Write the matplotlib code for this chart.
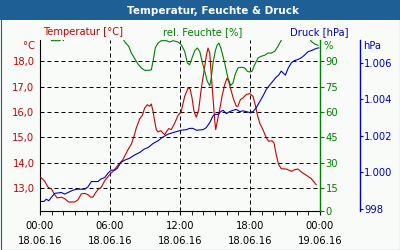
import matplotlib
matplotlib.use("Agg")
import matplotlib.pyplot as plt
from matplotlib.patches import Rectangle
from matplotlib.ticker import MultipleLocator

# ---------------- data ----------------
temp_t = [0.06, 0.40, 0.69, 0.97, 1.26, 1.48, 1.83, 2.12, 2.46, 2.97, 3.26, 3.54, 3.83, 4.11, 4.35,
          4.54, 4.74, 4.97, 5.25, 5.55, 5.97, 6.26, 6.69, 7.11, 7.54, 7.83, 8.06, 8.25, 8.55, 8.77,
          8.97, 9.20, 9.40, 9.54, 9.69, 9.83, 9.97, 10.11, 10.35, 10.54, 10.69, 10.83, 11.03, 11.25,
          11.55, 11.83, 12.11, 12.40, 12.69, 12.86, 13.03, 13.20, 13.40, 13.60, 13.83, 14.06, 14.25,
          14.40, 14.55, 14.68, 14.83, 14.97, 15.06, 15.20, 15.40, 15.60, 15.83, 16.03, 16.17, 16.40,
          16.60, 16.83, 16.97, 17.17, 17.40, 17.68, 17.97, 18.26, 18.45, 18.63, 18.83, 19.11, 19.40,
          19.60, 19.89, 20.06, 20.25, 20.46, 20.68, 21.11, 21.54, 21.83, 22.11, 22.40, 22.83, 23.25,
          23.68]
temp_v = [13.43, 13.28, 13.04, 12.98, 12.75, 12.62, 12.65, 12.59, 12.46, 12.46, 12.55, 12.78, 12.80,
          12.75, 12.65, 12.65, 12.81, 12.95, 13.04, 13.30, 13.54, 13.67, 13.91, 14.13, 14.52, 14.74,
          15.05, 15.37, 15.74, 15.87, 16.16, 16.29, 16.23, 16.32, 16.03, 15.64, 15.31, 15.22, 15.27,
          15.18, 15.11, 15.22, 15.35, 15.31, 15.57, 15.87, 16.03, 16.62, 16.95, 16.92, 16.56, 16.03,
          15.80, 16.09, 16.95, 17.61, 18.20, 18.52, 18.33, 17.47, 16.56, 15.70, 15.31, 15.64, 16.09,
          16.62, 17.08, 17.34, 17.21, 16.82, 16.49, 16.23, 16.23, 16.49, 16.56, 16.69, 16.73, 16.62,
          16.29, 15.90, 15.57, 15.31, 14.98, 14.85, 14.87, 14.78, 14.32, 13.93, 13.77, 13.76, 13.67,
          13.73, 13.76, 13.64, 13.51, 13.38, 13.14]

hum_t = [0.0, 0.85, 1.0, 1.7, 1.85, 2.0, 2.1, 7.1, 7.23, 7.60, 7.83, 8.12, 8.40, 8.68, 8.97, 9.26,
         9.54, 9.69, 9.88, 10.11, 10.40, 10.83, 11.12, 11.40, 11.83, 12.11, 12.40, 12.63, 12.83,
         13.03, 13.26, 13.48, 13.69, 13.89, 14.12, 14.34, 14.55, 14.68, 14.83, 15.03, 15.20, 15.34,
         15.54, 15.83, 16.11, 16.35, 16.54, 16.74, 16.97, 17.25, 17.55, 17.77, 17.97, 18.17, 18.40,
         18.69, 18.97, 19.26, 19.54, 19.83, 20.12, 20.40, 20.63, 20.83, 23.06, 23.25, 23.55, 23.83]
hum_v = [104, 104, 102.2, 102.2, 104, 102.2, 104, 104, 101.8, 98.9, 94.9, 91.6, 88.4, 86.1, 84.7,
         84.7, 84.9, 90.0, 97.9, 100.8, 102.2, 102.2, 101.4, 102.2, 101.4, 99.8, 95.9, 89.0, 88.0,
         92.0, 96.3, 97.9, 95.9, 90.0, 84.1, 78.2, 75.6, 80.1, 89.0, 96.3, 99.8, 100.8, 96.9, 89.0,
         80.1, 75.8, 77.2, 82.5, 86.1, 86.5, 86.1, 84.1, 83.7, 84.1, 88.0, 92.0, 93.0, 93.6, 94.9,
         94.9, 95.9, 98.9, 101.8, 104, 104, 101.8, 100.2, 99.5]

pres_t = [0.06, 0.34, 0.54, 0.75, 0.97, 1.26, 1.83, 2.12, 2.40, 2.83, 3.20, 3.83, 4.11, 4.40, 4.97,
          5.20, 5.55, 5.83, 6.11, 6.40, 6.63, 6.92, 7.26, 7.69, 8.12, 8.55, 8.91, 9.26, 9.69, 10.11,
          10.54, 10.97, 11.40, 11.89, 12.11, 12.54, 12.83, 13.11, 13.40, 13.97, 14.25, 14.55, 14.83,
          15.03, 15.26, 15.49, 15.69, 15.97, 16.26, 16.54, 16.83, 17.12, 17.40, 17.68, 17.97, 18.26,
          18.54, 18.83, 19.11, 19.40, 19.69, 19.97, 20.25, 20.46, 20.68, 20.91, 21.03, 21.26, 21.54,
          21.83, 22.11, 22.40, 22.69, 22.97, 23.31, 23.68, 23.89]
pres_v = [998.40, 998.40, 998.52, 998.44, 998.62, 998.84, 998.89, 998.80, 998.89, 999.02, 999.07,
          999.07, 999.20, 999.49, 999.49, 999.62, 999.71, 999.95, 1000.11, 1000.11, 1000.22, 1000.53,
          1000.66, 1000.77, 1000.95, 1001.08, 1001.26, 1001.35, 1001.57, 1001.72, 1001.93, 1002.08,
          1002.17, 1002.26, 1002.30, 1002.33, 1002.40, 1002.40, 1002.30, 1002.33, 1002.44, 1002.72,
          1003.08, 1003.17, 1003.17, 1003.32, 1003.39, 1003.21, 1003.32, 1003.39, 1003.44, 1003.32,
          1003.36, 1003.32, 1003.27, 1003.32, 1003.54, 1003.86, 1004.17, 1004.54, 1004.78, 1004.99,
          1005.21, 1005.32, 1005.54, 1005.39, 1005.32, 1005.68, 1005.99, 1006.12, 1006.17, 1006.27,
          1006.42, 1006.60, 1006.67, 1006.78, 1006.81]

x_ticks = [0, 6, 12, 18, 24]
x_labels = ["00:00\n18.06.16", "06:00\n18.06.16", "12:00\n18.06.16", "18:00\n18.06.16", "00:00\n19.06.16"]
temp_ticks = [13, 14, 15, 16, 17, 18]
temp_labels = ["13,0", "14,0", "15,0", "16,0", "17,0", "18,0"]
hum_ticks = [15, 30, 45, 60, 75, 90]
hum_labels = ["15", "30", "45", "60", "75", "90"]
pres_ticks = [998, 1000, 1002, 1004, 1006]
pres_labels = ["998", "1.000", "1.002", "1.004", "1.006"]

RED = "#CC0000"
GREEN = "#008000"
BLUE = "#0000CC"
BG = "#F8FBF8"
BAR = "#1E5F96"

W, H = 400, 250
plt.rcParams['font.family'] = ['DejaVu Sans']
fig = plt.figure(figsize=(4, 2.5), dpi=100, facecolor=BG)

# title bar
fig.patches.append(Rectangle((0, 1 - 20 / H), 1, 20 / H, transform=fig.transFigure,
                             facecolor=BAR, edgecolor="none", zorder=0))
fig.patches.append(Rectangle((0.5 / W, 0.5 / H), 1 - 1 / W, 1 - 1 / H, transform=fig.transFigure,
                             facecolor="none", edgecolor=BAR, linewidth=0.8, zorder=5))
fig.text(213 / W, 1 - 10.5 / H, "Temperatur, Feuchte & Druck", color="white", fontsize=7.5,
         fontweight="bold", ha="center", va="center")

left, right, top, bottom = 40, 320, 40, 211.3
ax = fig.add_axes([left / W, (H - bottom) / H, (right - left) / W, (bottom - top) / H])
ax.set_facecolor("none")
ax2 = ax.twinx()
ax3 = ax.twinx()

ax.plot(temp_t, temp_v, color=RED, lw=0.8, zorder=3)
ax2.plot(hum_t, hum_v, color=GREEN, lw=0.8)
ax3.plot(pres_t, pres_v, color=BLUE, lw=0.8)

ax.set_xlim(0, 24)
ax.set_ylim(12.094, 18.839)
ax2.set_ylim(1.4, 102.6)
ax3.set_ylim(997.86, 1007.24)

# grid
for v in temp_ticks:
    ax.axhline(v, color="black", lw=0.72, dashes=(4, 3), zorder=1)
for v in [6, 12, 18]:
    ax.axvline(v, color="black", lw=0.72, dashes=(4, 3), zorder=1)

# spines
for s in ["top", "right"]:
    ax.spines[s].set_visible(False)
ax.spines["left"].set_color("black")
ax.spines["bottom"].set_color("black")
for s in ["top", "left", "bottom"]:
    ax2.spines[s].set_visible(False)
    ax3.spines[s].set_visible(False)
ax2.spines["right"].set_color(GREEN)
ax2.spines["right"].set_linewidth(1.0)
ax3.spines["right"].set_position(("axes", (360 - left) / (right - left)))
ax3.spines["right"].set_color(BLUE)
ax3.spines["right"].set_linewidth(1.0)

fs = 7.2
ax.set_xticks(x_ticks)
ax.set_xticklabels(x_labels, fontsize=fs, linespacing=1.6)
ax.xaxis.set_minor_locator(MultipleLocator(1))
ax.tick_params(axis="x", which="both", direction="out", length=3, color="black", pad=4)
ax.set_yticks(temp_ticks)
ax.set_yticklabels(temp_labels, fontsize=fs, color=RED)
ax.tick_params(axis="y", length=0, pad=4)

ax2.set_yticks([1.4] + hum_ticks)
ax2.set_yticklabels(["0"] + hum_labels, fontsize=fs, color=GREEN)
ax2.tick_params(axis="y", direction="out", length=3, color=GREEN, pad=1)

ax3.set_yticks(pres_ticks)
ax3.set_yticklabels(pres_labels, fontsize=fs, color=BLUE)
ax3.tick_params(axis="y", direction="out", length=2, color=BLUE, pad=1)

# unit labels
fig.text(35 / W, 1 - 46 / H, "°C", color=RED, fontsize=fs, ha="right", va="center")
fig.text(324 / W, 1 - 46 / H, "%", color=GREEN, fontsize=fs, ha="left", va="center")
fig.text(363 / W, 1 - 46 / H, "hPa", color=BLUE, fontsize=fs, ha="left", va="center")

# series headers
fig.text(43 / W, 1 - 32 / H, "Temperatur [°C]", color=RED, fontsize=fs, ha="left", va="center")
fig.text(203 / W, 1 - 32 / H, "rel. Feuchte [%]", color=GREEN, fontsize=fs, ha="center", va="center")
fig.text(348 / W, 1 - 32 / H, "Druck [hPa]", color=BLUE, fontsize=fs, ha="right", va="center")

fig.savefig("out.png", dpi=100, facecolor=BG)
